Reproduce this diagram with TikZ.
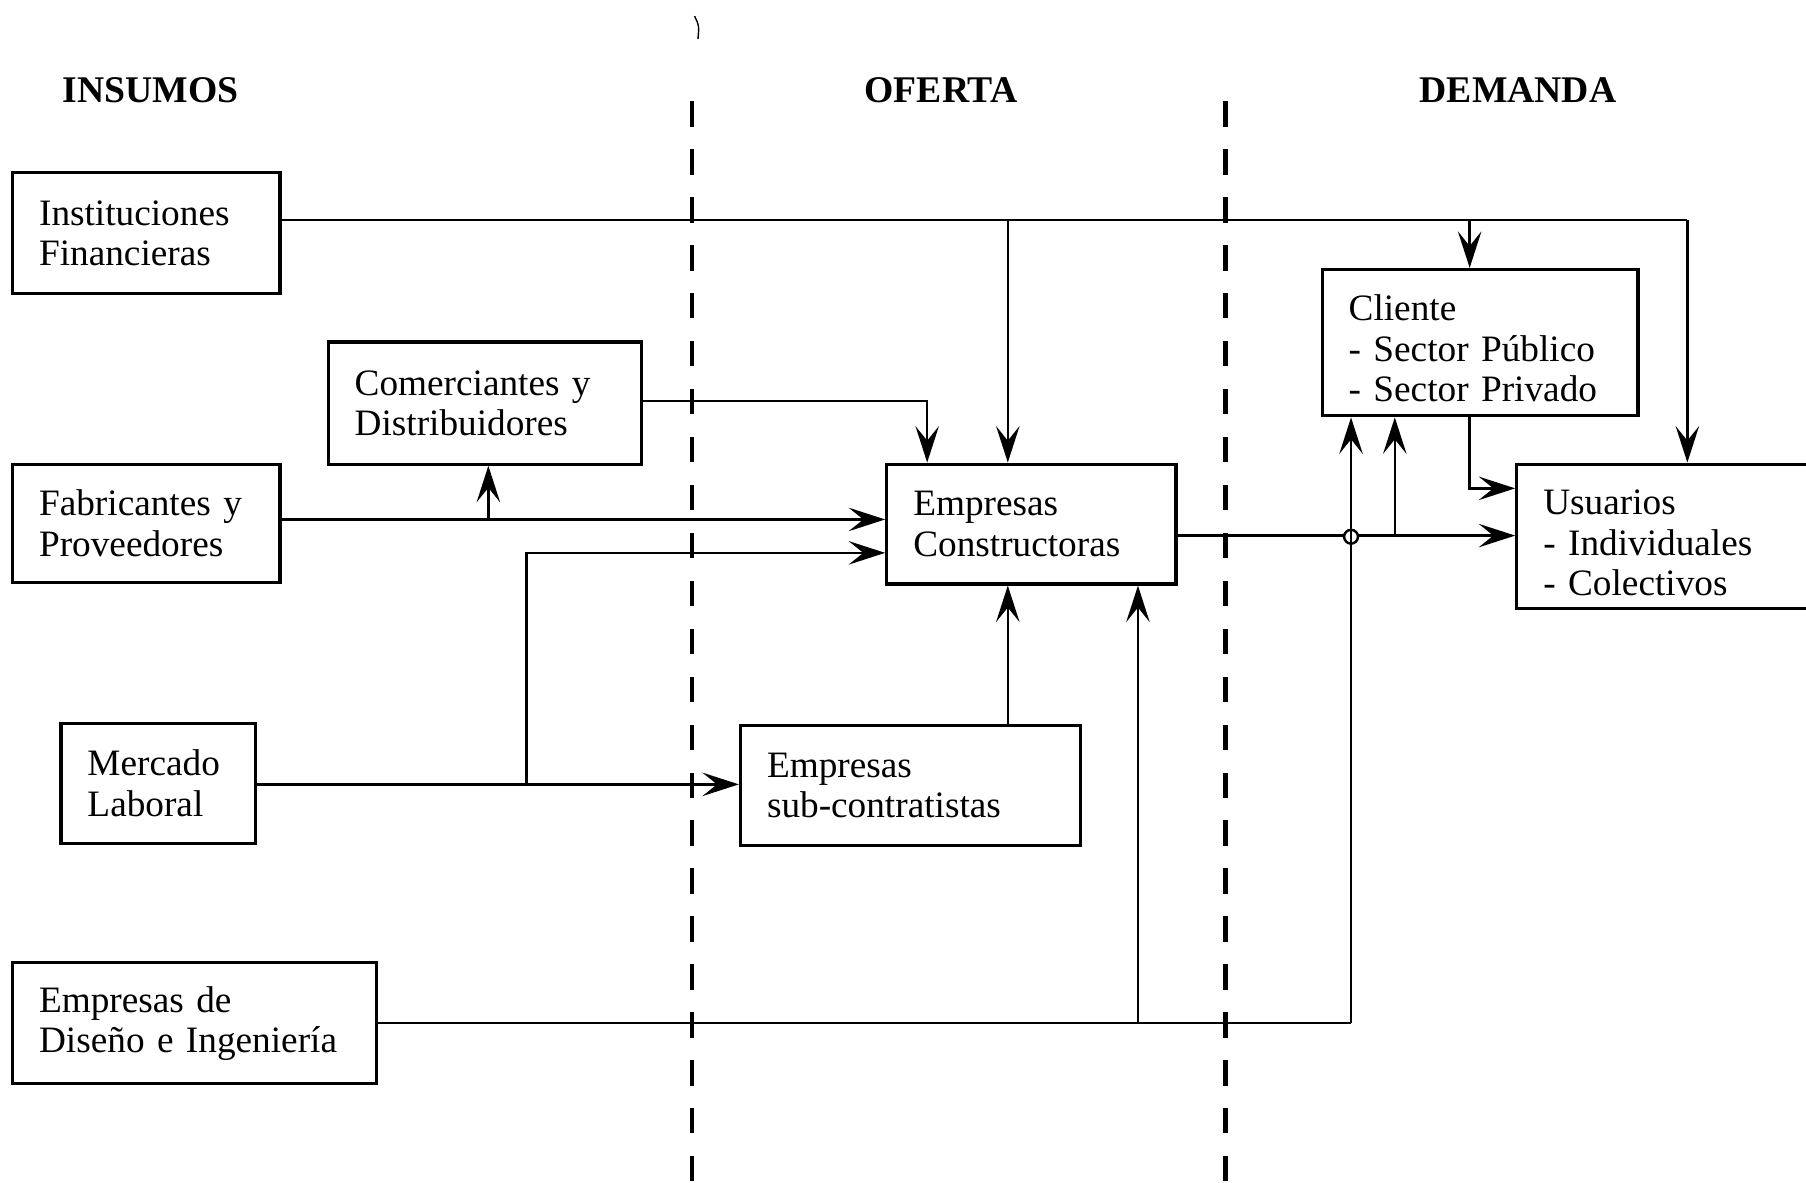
\documentclass[tikz,border=0pt]{standalone}
\usepackage{fontspec}
\setmainfont{Liberation Serif}[WordSpace=0.72]
\usetikzlibrary{arrows.meta}
\begin{document}
\begin{tikzpicture}[x=0.01cm,y=-0.01cm,
 box/.style={draw, line width=0.8pt, inner xsep=0.23cm, inner ysep=0pt,
   font=\fontsize{9.2}{10}\selectfont, align=left, anchor=center},
 conn/.style={line width=0.6pt},
 arr/.style={conn,-{Stealth[length=9pt,width=5.8pt,inset=3.6pt]}},
 hdr/.style={font=\fontsize{9.3}{11}\selectfont\bfseries},
 divider/.style={line width=1.05pt, dash pattern=on 0.22cm off 0.196cm},
 hop/.style={circle, draw, line width=0.6pt, fill=white, minimum size=0.12cm, inner sep=0pt}]
\useasboundingbox (0,0) rectangle (1568,1027);
\clip (0,0) rectangle (1568,1027);

% headers
\node[hdr] (hIns) at (131,78) {INSUMOS};
\node[hdr] (hOf) at (817,78) {OFERTA};
\node[hdr] (hDem) at (1318,78) {DEMANDA};

% dividers
\coordinate (d1t) at (601,88);
\coordinate (d1b) at (601,1040);
\coordinate (d2t) at (1064,88);
\coordinate (d2b) at (1064,1040);
\draw[divider] (d1t) -- (d1b);
\draw[divider] (d2t) -- (d2b);

% small scan mark
\draw[line width=0.35pt] (603,14) .. controls (607,22) .. (606,34);

% boxes
\node[box, text width=1.86cm, minimum height=1.05cm] (inst) at (127,202.5) {Instituciones\\Financieras};
\node[box, text width=2.26cm, minimum height=1.06cm] (com) at (421,350) {Comerciantes y\\Distribuidores};
\node[box, text width=1.86cm, minimum height=1.03cm] (fab) at (127,454.5) {Fabricantes y\\Proveedores};
\node[box, text width=1.23cm, minimum height=1.04cm] (merc) at (137.5,680) {Mercado\\Laboral};
\node[box, text width=2.70cm, minimum height=1.05cm] (dis) at (169,888.5) {Empresas de\\Diseño e Ingeniería};
\node[box, text width=2.05cm, minimum height=1.04cm] (cons) at (895.5,455) {Empresas\\Constructoras};
\node[box, text width=2.49cm, minimum height=1.04cm] (sub) at (790.5,682) {Empresas\\sub-contratistas};
\node[box, text width=2.28cm, minimum height=1.27cm] (cli) at (1285,297.5) {\rule{0pt}{9.2pt}Cliente\\- Sector Público\\- Sector Privado};
\node[box, text width=2.17cm, minimum height=1.25cm] (usu) at (1448.5,465.5) {\rule{0pt}{9.6pt}Usuarios\\- Individuales\\- Colectivos};

% junction coordinates
\coordinate (jInstC) at (875,191);
\coordinate (jInstCl) at (1276,191);
\coordinate (jInstU) at (1465,191);
\coordinate (jCom) at (805,348);
\coordinate (jFab) at (424,451);
\coordinate (jMerc) at (457,681);
\coordinate (jMerc2) at (457,480);
\coordinate (jSub) at (875,682);
\coordinate (jDisC) at (988,888);
\coordinate (jDisK) at (1173,888);
\coordinate (jConsCl) at (1211,465);
\coordinate (jCli) at (1276,424);

% Instituciones Financieras
\draw[conn] (inst.east |- jInstC) -- (jInstU);
\draw[arr] (jInstU) -- (jInstU |- usu.north);
\draw[arr] (jInstC) -- (jInstC |- cons.north);
\draw[arr] (jInstCl) -- (jInstCl |- cli.north);

% Comerciantes
\draw[arr] (com.east |- jCom) -- (jCom) -- (jCom |- cons.north);

% Fabricantes
\draw[arr] (fab.east |- jFab) -- (cons.west |- jFab);
\draw[arr] (jFab) -- (jFab |- com.south);

% Mercado Laboral
\draw[arr] (merc.east |- jMerc) -- (sub.west |- jMerc);
\draw[arr] (jMerc) -- (jMerc2) -- (cons.west |- jMerc2);

% Sub-contratistas
\draw[arr] (sub.north -| jSub) -- (cons.south -| jSub);

% Diseno e Ingenieria
\draw[conn] (dis.east |- jDisK) -- (jDisK);
\draw[arr] (jDisC) -- (jDisC |- cons.south);
\draw[arr] (jDisK) -- (jDisK |- cli.south);

% Constructoras to Usuarios and Cliente
\draw[arr] (cons.east |- jConsCl) -- (usu.west |- jConsCl);
\draw[arr] (jConsCl) -- (jConsCl |- cli.south);

% Cliente to Usuarios
\draw[arr] (cli.south -| jCli) -- (jCli) -- (usu.west |- jCli);

% crossing marker
\node[hop] (hopc) at (1173,466) {};
\draw[conn] (hopc.north) -- (hopc.south);
\end{tikzpicture}
\end{document}
